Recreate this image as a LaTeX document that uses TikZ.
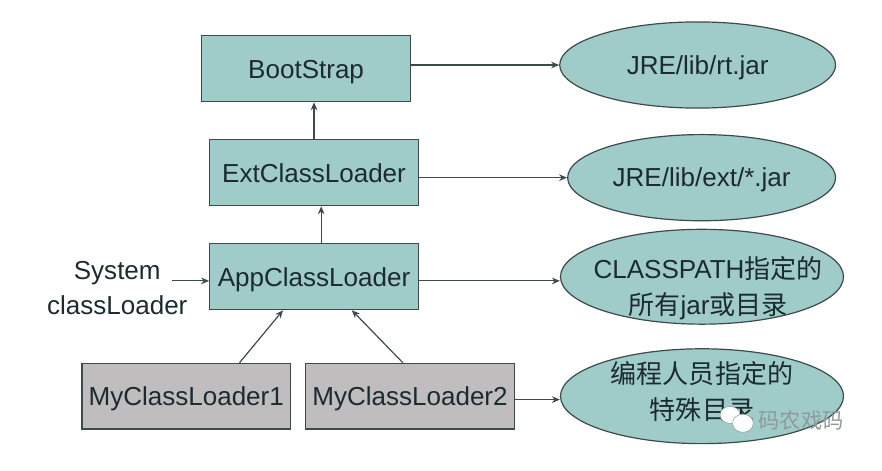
\documentclass[tikz,border=0pt]{standalone}
\usepackage{fontspec}
\setmainfont{Liberation Sans}
\newfontfamily\cjk{Noto Sans CJK SC}
\usetikzlibrary{arrows.meta, positioning, shapes.geometric}
\definecolor{tikzteal}{HTML}{9FCBC9}
\definecolor{tikzgrey}{HTML}{BFBDBE}
\definecolor{tikzline}{HTML}{3C4A4C}
\definecolor{tikzink}{HTML}{1C2B30}
\definecolor{tikzmark}{HTML}{8E9A9A}
\begin{document}
\begin{tikzpicture}[
      loader/.style={draw=tikzline, fill=#1, minimum width=5.52cm, minimum height=1.74cm, inner sep=0pt, text height=14pt, text depth=0pt, text=tikzink, font=\fontsize{19.6}{27}\selectfont, line width=0.9pt},
      oval/.style={ellipse, draw=tikzline, fill=tikzteal, minimum width=#1, inner sep=0pt, text height=14pt, text depth=0pt, text=tikzink, font=\fontsize{19.6}{27}\selectfont, line width=0.9pt},
      ovaltext/.style={align=center, text=tikzink, font=\fontsize{19.6}{27}\selectfont, yshift=#1},
      arrow/.style={->, >={Stealth[length=6pt, width=5pt]}, line width=0.9pt, tikzline},
      bubble/.style={ellipse, fill=white, draw=tikzmark, line width=0.4pt, inner sep=0pt}
  ]
    \useasboundingbox (0,0) rectangle (23.34,12.46);

    \node[loader=tikzteal] (boot) at (8.10,10.64) {BootStrap};
    \node[loader=tikzteal, below=0.98cm of boot, xshift=0.21cm] (ext) {ExtClassLoader};
    \node[loader=tikzteal, below=0.98cm of ext] (app) {AppClassLoader};
    \node[loader=tikzgrey, below=1.39cm of app, xshift=2.54cm] (my2) {MyClassLoader2};
    \node[loader=tikzgrey, left=0.37cm of my2] (my1) {MyClassLoader1};

    \node[oval=7.30cm, minimum height=2.28cm, right=3.92cm of boot, yshift=0.10cm] (rt) {JRE/lib/rt.jar};
    \node[oval=7.09cm, minimum height=2.28cm, right=3.92cm of ext, yshift=-0.13cm] (extjar) {JRE/lib/ext/*.jar};
    \node[oval=7.49cm, minimum height=2.51cm, right=3.73cm of app, label={[ovaltext=-0.30cm, xshift=0.16cm]center:CLASSPATH{\cjk 指定的}\\{\cjk 所有}jar{\cjk 或目录}}] (cp) {};
    \node[oval=7.49cm, minimum height=2.51cm, right=1.19cm of my2, label={[ovaltext=0.12cm]center:{\cjk 编程人员指定的}\\{\cjk 特殊目录}}] (dev) {};

    \node[align=center, text=tikzink, font=\fontsize{19.6}{27}\selectfont, left=0.45cm of app, yshift=-0.30cm] (sys) {System\\classLoader};
    \coordinate[left=0.98cm of app, yshift=-0.11cm] (sysend);

    \draw[arrow] (boot.east |- rt.west) -- (rt.west);
    \draw[arrow] (ext.east |- extjar.west) -- (extjar.west);
    \draw[arrow] ([yshift=-0.11cm]app.east) -- ([yshift=-0.11cm]app.east -| cp.west);
    \draw[arrow] ([yshift=-0.09cm]my2.east) -- ([yshift=-0.09cm]my2.east -| dev.west);
    \draw[arrow] (sysend) -- (sysend -| app.west);
    \draw[arrow] (ext.north) -- ([xshift=0.21cm]boot.south);
    \draw[arrow] ([xshift=0.19cm]app.north) -- ([xshift=0.19cm]ext.south);
    \draw[arrow] ([xshift=1.41cm]my1.north) -- ([xshift=-0.82cm]app.south);
    \draw[arrow] ([xshift=-0.19cm]my2.north) -- ([xshift=1.0cm]app.south);

    \node[bubble, minimum width=0.53cm, minimum height=0.45cm] (wechat1) at (19.32,1.48) {};
    \node[bubble, minimum width=0.55cm, minimum height=0.48cm] (wechat2) at (19.66,1.26) {};
    \node[font=\cjk\fontsize{16}{16}\selectfont, text=tikzmark] (brand) at (21.20,1.33) {码农戏码};
\end{tikzpicture}
\end{document}
